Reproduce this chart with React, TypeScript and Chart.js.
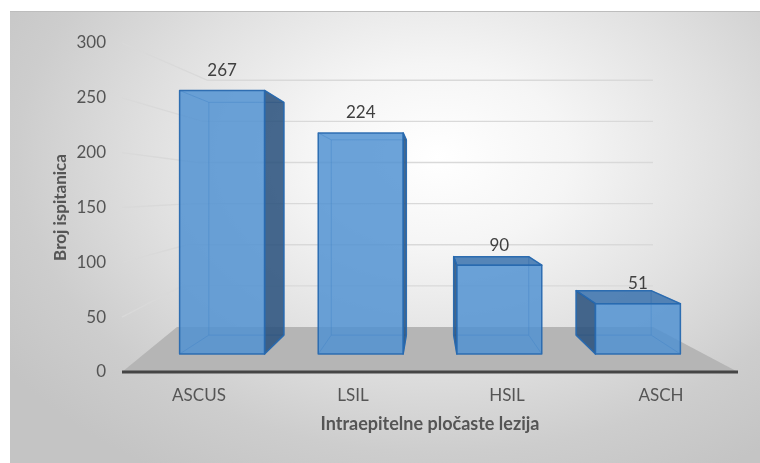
import React, { useEffect, useRef } from "react";
import { Chart, registerables } from "chart.js";

Chart.register(...registerables);

// ---- data ----
const categories = ["ASCUS", "LSIL", "HSIL", "ASCH"];
const values = [267, 224, 90, 51];
const yTicks = [0, 50, 100, 150, 200, 250, 300];
const xTitle = "Intraepitelne pločaste lezija";
const yTitle = "Broj ispitanica";

// ---- perspective settings (style, not data) ----
const VY_OFFSET = 149; // vanishing point below chart top
const S_BAR_FRONT = 0.9;
const S_BAR_BACK = 0.795;
const S_WALL = 0.75;
const WALL_LEFT_INSET = 55;
const WALL_RIGHT_INSET = 85;
const WALL_SHEAR = 0.124;
const FONT = 'Lato, "Open Sans", sans-serif';

type Pt = [number, number];

const perspective = {
  id: "perspective3d",
  beforeDatasetsDraw(chart: any) {
    const { ctx, chartArea: ca, scales } = chart;
    const y = scales.y;
    const vy = ca.top + VY_OFFSET;
    const wallY = (py: number) => vy + S_WALL * (py - vy);
    const y0 = y.getPixelForValue(0);
    const backY0 = wallY(y0);
    const backLeft = (by: number) => ca.left + WALL_LEFT_INSET + WALL_SHEAR * (backY0 - by);
    const backRight = ca.right - WALL_RIGHT_INSET;
    ctx.save();
    // gridlines on side wall + back wall
    ctx.strokeStyle = "#d9d9d9";
    ctx.lineWidth = 1.3;
    for (const v of yTicks) {
      if (v === 0) continue;
      const py = y.getPixelForValue(v);
      const by = wallY(py);
      ctx.beginPath();
      ctx.moveTo(ca.left, py);
      ctx.lineTo(backLeft(by), by);
      ctx.lineTo(backRight, by);
      ctx.stroke();
    }
    // floor
    const f: Pt[] = [
      [ca.left, y0],
      [ca.right, y0],
      [backRight, backY0],
      [backLeft(backY0), backY0],
    ];
    ctx.fillStyle = "#b5b5b5";
    ctx.beginPath();
    f.forEach((p, i) => (i ? ctx.lineTo(p[0], p[1]) : ctx.moveTo(p[0], p[1])));
    ctx.closePath();
    ctx.fill();
    // front axis line
    ctx.strokeStyle = "#454545";
    ctx.lineWidth = 3;
    ctx.beginPath();
    ctx.moveTo(ca.left, y0);
    ctx.lineTo(ca.right, y0);
    ctx.stroke();
    ctx.restore();
  },
  afterDatasetsDraw(chart: any) {
    const { ctx, chartArea: ca } = chart;
    const vx = (ca.left + ca.right) / 2;
    const vy = ca.top + VY_OFFSET;
    const P = (px: number, py: number, s: number): Pt => [vx + s * (px - vx), vy + s * (py - vy)];
    const meta = chart.getDatasetMeta(0);
    const poly = (pts: Pt[]) => {
      ctx.beginPath();
      pts.forEach((p, i) => (i ? ctx.lineTo(p[0], p[1]) : ctx.moveTo(p[0], p[1])));
      ctx.closePath();
    };
    ctx.save();
    ctx.lineJoin = "round";
    meta.data.forEach((bar: any, i: number) => {
      const { x, y, base, width } = bar.getProps(["x", "y", "base", "width"], true);
      const xl = x - width / 2;
      const xr = x + width / 2;
      const ftl = P(xl, y, S_BAR_FRONT), ftr = P(xr, y, S_BAR_FRONT);
      const fbl = P(xl, base, S_BAR_FRONT), fbr = P(xr, base, S_BAR_FRONT);
      const btl = P(xl, y, S_BAR_BACK), btr = P(xr, y, S_BAR_BACK);
      const bbl = P(xl, base, S_BAR_BACK), bbr = P(xr, base, S_BAR_BACK);
      const faces = {
        back: [btl, btr, bbr, bbl] as Pt[],
        bottom: [fbl, fbr, bbr, bbl] as Pt[],
        top: [ftl, ftr, btr, btl] as Pt[],
        left: [ftl, btl, bbl, fbl] as Pt[],
        right: [ftr, btr, bbr, fbr] as Pt[],
        front: [ftl, ftr, fbr, fbl] as Pt[],
      };
      const vis = {
        right: btr[0] > ftr[0],
        left: btl[0] < ftl[0],
        top: btl[1] < ftl[1],
        bottom: bbl[1] > fbl[1],
      };
      const order: (keyof typeof vis)[] = ["bottom", "top", "left", "right"];
      ctx.fillStyle = "rgba(80,145,210,0.45)";
      poly(faces.back);
      ctx.fill();
      for (const k of order) {
        if (!vis[k]) {
          poly(faces[k]);
          ctx.fill();
        }
      }
      // hidden edges
      ctx.strokeStyle = "rgba(46,110,180,0.55)";
      ctx.lineWidth = 1;
      poly(faces.back);
      ctx.stroke();
      for (const [a, b] of [[ftl, btl], [ftr, btr], [fbl, bbl], [fbr, bbr]] as [Pt, Pt][]) {
        ctx.beginPath();
        ctx.moveTo(a[0], a[1]);
        ctx.lineTo(b[0], b[1]);
        ctx.stroke();
      }
      // visible side/top faces
      for (const k of order) {
        if (vis[k]) {
          ctx.fillStyle = k === "top" ? "rgba(50,105,165,0.7)" : "rgba(40,75,115,0.78)";
          poly(faces[k]);
          ctx.fill();
          ctx.strokeStyle = "rgba(40,105,175,0.95)";
          ctx.lineWidth = 1.5;
          ctx.stroke();
        }
      }
      // front face
      ctx.fillStyle = "rgba(80,145,210,0.7)";
      poly(faces.front);
      ctx.fill();
      ctx.strokeStyle = "rgba(40,105,175,0.95)";
      ctx.lineWidth = 1.5;
      ctx.stroke();
      // value label
      ctx.fillStyle = "#404040";
      ctx.font = `17px ${FONT}`;
      ctx.textAlign = "center";
      ctx.textBaseline = "middle";
      const lp = P(x, y, S_BAR_FRONT);
      ctx.fillText(String(values[i]), lp[0], lp[1] - 20);
    });
    ctx.restore();
  },
};

export default function App() {
  const ref = useRef<HTMLCanvasElement>(null);
  useEffect(() => {
    if (!ref.current) return;
    const chart = new Chart(ref.current, {
      type: "bar",
      data: {
        labels: categories,
        datasets: [
          {
            data: values,
            backgroundColor: "rgba(0,0,0,0)",
            borderWidth: 0,
            barPercentage: 0.613,
            categoryPercentage: 1,
          },
        ],
      },
      options: {
        responsive: false,
        animation: false,
        devicePixelRatio: 1,
        layout: { padding: { left: 50, right: 22, top: 43, bottom: 28 } },
        plugins: { legend: { display: false }, tooltip: { enabled: false } },
        scales: {
          x: {
            grid: { display: false, drawTicks: false },
            border: { display: false },
            ticks: { color: "#555555", font: { family: FONT, size: 17 }, padding: 13 },
            title: {
              display: true,
              text: xTitle,
              color: "#555555",
              font: { family: FONT, size: 18, weight: "bold" },
              padding: { top: 0, bottom: 0 },
            },
            afterFit: (s: any) => {
              s.height = 63;
            },
          },
          y: {
            min: 0,
            max: 300,
            grid: { display: false, drawTicks: false },
            border: { display: false },
            ticks: { color: "#555555", font: { family: FONT, size: 17 }, padding: 16 },
            afterBuildTicks: (s: any) => {
              s.ticks = yTicks.map((v) => ({ value: v }));
            },
            title: {
              display: true,
              text: yTitle,
              color: "#555555",
              font: { family: FONT, size: 17, weight: "bold" },
              padding: { top: 0, bottom: 0 },
            },
            afterFit: (s: any) => {
              s.width = 72;
            },
          },
        },
      },
      plugins: [perspective],
    } as any);
    return () => chart.destroy();
  }, []);

  return (
    <div style={{ position: "fixed", left: 0, top: 0, width: 760, height: 463, overflow: "hidden", background: "#fff" }}>
      <div
        style={{
          position: "absolute",
          left: 10,
          top: 11,
          width: 750,
          height: 452,
          borderTop: "1px solid #bdbdbd",
          background:
            "radial-gradient(ellipse 70% 82% at 57% 32%, #ffffff 0%, #f5f5f5 25%, #e0e0e0 55%, #cdcdcd 80%, #c4c4c4 100%)",
        }}
      />
      <canvas ref={ref} width={760} height={463} style={{ position: "absolute", left: 0, top: 0, width: 760, height: 463 }} />
    </div>
  );
}
